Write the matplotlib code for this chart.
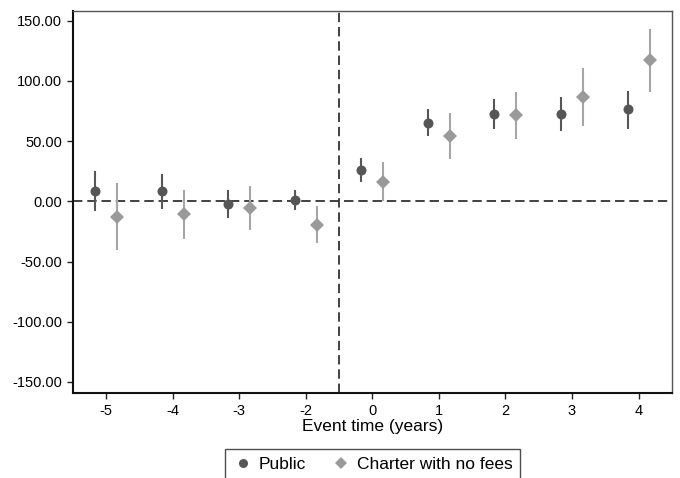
import matplotlib
matplotlib.use("Agg")
import matplotlib.pyplot as plt
import numpy as np
from matplotlib.lines import Line2D

plt.rcParams['font.family'] = ['Liberation Sans', 'DejaVu Sans']

# event time categories
event_labels = ['-5', '-4', '-3', '-2', '0', '1', '2', '3', '4']

# Public schools: estimate and 95% CI bounds
public_est = [8.3, 8.3, -2.0, 0.8, 26.0, 65.3, 72.8, 72.8, 76.5]
public_lo = [-8.3, -6.7, -14.0, -7.5, 16.0, 54.0, 60.5, 58.4, 60.5]
public_hi = [25.0, 23.0, 9.7, 9.2, 36.0, 77.0, 85.0, 86.8, 92.0]

# Charter with no fees
charter_est = [-13.0, -10.8, -5.3, -19.4, 16.4, 54.4, 71.4, 87.0, 117.3]
charter_lo = [-40.3, -31.0, -23.6, -34.7, 0.0, 35.0, 52.0, 62.8, 90.6]
charter_hi = [15.3, 9.2, 12.5, -4.2, 32.8, 73.0, 90.6, 111.0, 143.5]

pos = np.arange(len(event_labels))
off = 0.165

fig = plt.figure(figsize=(6.8, 4.78), dpi=100)
ax = fig.add_axes([0.107, 0.177, 0.881, 0.801])

dark = '#565656'
light = '#9a9a9a'

ax.axhline(0, color='#333333', lw=1.3, dashes=(5.2, 2.7), zorder=1)
ax.axvline(3.5, color='#333333', lw=1.3, dashes=(5.2, 2.7), zorder=1)

ax.vlines(pos - off, public_lo, public_hi, color=dark, lw=1.5, zorder=2)
ax.plot(pos - off, public_est, 'o', color=dark, ms=7.2, mew=0, zorder=3)

ax.vlines(pos + off, charter_lo, charter_hi, color='#a6a6a6', lw=1.5, zorder=2)
ax.plot(pos + off, charter_est, 'D', color=light, ms=7, mew=0, zorder=3)

ax.set_xlim(-0.5, 8.5)
ax.set_ylim(-159.5, 158.5)
ax.set_xticks(pos)
ax.set_xticklabels(event_labels)
ax.set_yticks([-150, -100, -50, 0, 50, 100, 150])
ax.set_yticklabels(['%.2f' % v for v in [-150, -100, -50, 0, 50, 100, 150]])
ax.tick_params(direction='out', length=4, width=1, labelsize=10.5, color='#222222')
ax.set_xlabel('Event time (years)', fontsize=12.5, labelpad=1)

for s in ['left', 'bottom']:
    ax.spines[s].set_linewidth(1.5)
    ax.spines[s].set_color('#111111')
for s in ['top', 'right']:
    ax.spines[s].set_linewidth(1.0)
    ax.spines[s].set_color('#555555')

handles = [
    Line2D([], [], marker='o', color=dark, ls='none', ms=6.5, mew=0),
    Line2D([], [], marker='D', color=light, ls='none', ms=6.5, mew=0),
]
leg = fig.legend(handles, ['Public', 'Charter with no fees'], loc='upper center',
                 bbox_to_anchor=(0.548, 0.0613), borderaxespad=0, ncol=2,
                 fontsize=12.5, frameon=True, fancybox=False, handletextpad=0.3,
                 columnspacing=1.4, handlelength=1.2, borderpad=0.45)
leg.get_frame().set_edgecolor('#222222')
leg.get_frame().set_linewidth(1.0)

fig.savefig('out.png', dpi=100)
